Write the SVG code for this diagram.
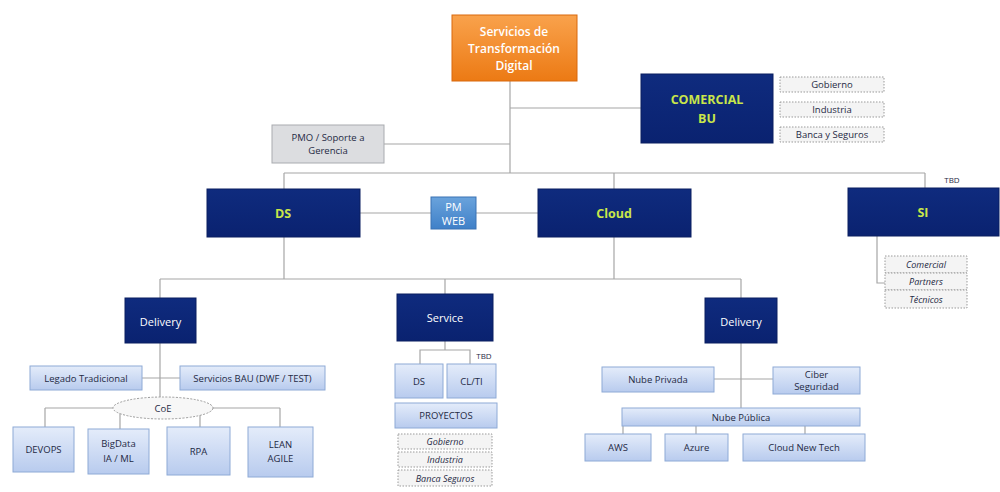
<svg xmlns="http://www.w3.org/2000/svg" width="1000" height="492" viewBox="0 0 1000 492">
  <defs>
    <linearGradient id="gOrange" x1="0" y1="0" x2="0" y2="1">
      <stop offset="0" stop-color="#f9a24c"/>
      <stop offset="1" stop-color="#ec7a14"/>
    </linearGradient>
    <linearGradient id="gNavy" x1="0" y1="0" x2="0" y2="1">
      <stop offset="0" stop-color="#0f2b7e"/>
      <stop offset="1" stop-color="#0a2270"/>
    </linearGradient>
    <linearGradient id="gLight" x1="0" y1="0" x2="0" y2="1">
      <stop offset="0" stop-color="#e4ecfa"/>
      <stop offset="1" stop-color="#b8cbee"/>
    </linearGradient>
    <linearGradient id="gMid" x1="0" y1="0" x2="0" y2="1">
      <stop offset="0" stop-color="#6aa3dc"/>
      <stop offset="1" stop-color="#3f80c8"/>
    </linearGradient>
  </defs>
  <style>
    text { font-family: "Open Sans", "Liberation Sans", sans-serif; text-anchor: middle; dominant-baseline: central; }
    .orange { fill: url(#gOrange); stroke: #d9690c; stroke-width: 1; }
    .navy { fill: url(#gNavy); stroke: #0a1f60; stroke-width: 1; }
    .light { fill: url(#gLight); stroke: #8eaad6; stroke-width: 1; }
    .gray { fill: #dcdde0; stroke: #a9abb0; stroke-width: 1; }
    .dotted { fill: #f4f4f4; stroke: #9a9a9a; stroke-width: 1; stroke-dasharray: 1.5 1.5; }
    .mid { fill: url(#gMid); stroke: #3a72b4; stroke-width: 1; }
    .conn line, .conn polyline { stroke: #a6a6a6; stroke-width: 1.2; fill: none; }
    .tw { fill: #ffffff; font-size: 11px; }
    .tt { fill: #ffffff; font-size: 12px; font-weight: 600; }
    .ty { fill: #c9e64a; font-size: 12.5px; font-weight: bold; }
    .td { fill: #1f2a44; font-size: 9.5px; }
    .ti { fill: #1f2a44; font-size: 9px; font-style: italic; }
    .tbd { fill: #1f2a44; font-size: 8px; }
  </style>
  <rect width="1000" height="492" fill="#ffffff"/>

  <g id="connectors" class="conn">
    <!-- trunk -->
    <line x1="510" y1="81" x2="510" y2="173"/>
    <line x1="510" y1="108" x2="641" y2="108"/>
    <line x1="384" y1="144" x2="510" y2="144"/>
    <line x1="284" y1="173" x2="925" y2="173"/>
    <line x1="284" y1="173" x2="284" y2="189"/>
    <line x1="614" y1="173" x2="614" y2="189"/>
    <line x1="925" y1="173" x2="925" y2="188"/>
    <!-- DS / Cloud link -->
    <line x1="360" y1="213" x2="538" y2="213"/>
    <!-- SI children -->
    <polyline points="877,236 877,283 885,283"/>
    <!-- second level bus -->
    <line x1="284" y1="237" x2="284" y2="279"/>
    <line x1="614" y1="237" x2="614" y2="279"/>
    <line x1="160" y1="279" x2="741" y2="279"/>
    <line x1="160" y1="279" x2="160" y2="298"/>
    <line x1="445" y1="279" x2="445" y2="294"/>
    <line x1="741" y1="279" x2="741" y2="298"/>
    <!-- left delivery -->
    <line x1="160" y1="343" x2="160" y2="397"/>
    <line x1="142" y1="378" x2="180" y2="378"/>
    <line x1="45" y1="408" x2="113" y2="408"/>
    <line x1="213" y1="408" x2="280" y2="408"/>
    <line x1="45" y1="408" x2="45" y2="427"/>
    <line x1="120" y1="408" x2="120" y2="429"/>
    <line x1="200" y1="408" x2="200" y2="427"/>
    <line x1="280" y1="408" x2="280" y2="427"/>
    <!-- service -->
    <line x1="445" y1="341" x2="445" y2="350"/>
    <polyline points="420,364 420,350 470,350 470,364"/>
    <!-- right delivery -->
    <line x1="741" y1="343" x2="741" y2="408"/>
    <line x1="714" y1="379" x2="773" y2="379"/>
    <line x1="623" y1="426" x2="623" y2="434"/>
    <line x1="696" y1="426" x2="696" y2="434"/>
    <line x1="805" y1="426" x2="805" y2="434"/>
  </g>

  <g id="top">
    <rect class="orange" x="452" y="15" width="125" height="66"/>
    <text class="tt" x="514" y="31">Servicios de</text>
    <text class="tt" x="514" y="48">Transformación</text>
    <text class="tt" x="514" y="65">Digital</text>
  </g>

  <g id="comercial">
    <rect class="navy" x="641" y="74" width="132" height="69"/>
    <text class="ty" x="707" y="99" font-size="13.5">COMERCIAL</text>
    <text class="ty" x="707" y="118" font-size="13.5">BU</text>
  </g>
  <g id="comercial-gobierno">
    <rect class="dotted" x="780" y="77" width="104" height="15"/>
    <text class="td" x="832" y="84.5">Gobierno</text>
  </g>
  <g id="comercial-industria">
    <rect class="dotted" x="780" y="102" width="104" height="15"/>
    <text class="td" x="832" y="109.5">Industria</text>
  </g>
  <g id="comercial-banca">
    <rect class="dotted" x="780" y="127" width="104" height="15"/>
    <text class="td" x="832" y="134.5">Banca y Seguros</text>
  </g>

  <g id="pmo">
    <rect class="gray" x="272" y="125" width="112" height="38"/>
    <text class="td" x="328" y="137">PMO / Soporte a</text>
    <text class="td" x="328" y="150">Gerencia</text>
  </g>

  <g id="ds">
    <rect class="navy" x="207" y="189" width="153" height="48"/>
    <text class="ty" x="283" y="213">DS</text>
  </g>
  <g id="pm">
    <rect class="mid" x="431" y="197" width="45" height="32"/>
    <text class="tw" x="453.5" y="206" font-size="7.5">PM</text>
    <text class="tw" x="453.5" y="220" font-size="7.5">WEB</text>
  </g>
  <g id="cloud">
    <rect class="navy" x="538" y="189" width="153" height="48"/>
    <text class="ty" x="614" y="213">Cloud</text>
  </g>
  <g id="si">
    <rect class="navy" x="848" y="188" width="151" height="48"/>
    <text class="ty" x="923" y="212">SI</text>
    <text class="tbd" x="952" y="179">TBD</text>
  </g>
  <g id="si-comercial">
    <rect class="dotted" x="885" y="256" width="82" height="17"/>
    <text class="ti" x="926" y="264.5">Comercial</text>
  </g>
  <g id="si-partners">
    <rect class="dotted" x="885" y="273" width="82" height="17"/>
    <text class="ti" x="926" y="281.5">Partners</text>
  </g>
  <g id="si-tecnicos">
    <rect class="dotted" x="885" y="290" width="82" height="18"/>
    <text class="ti" x="926" y="299">Técnicos</text>
  </g>

  <!-- DS branch -->
  <g id="ds-delivery">
    <rect class="navy" x="125" y="298" width="71" height="45"/>
    <text class="tw" x="160.5" y="321">Delivery</text>
  </g>
  <g id="legado">
    <rect class="light" x="30" y="366" width="112" height="24"/>
    <text class="td" x="86" y="378">Legado Tradicional</text>
  </g>
  <g id="bau">
    <rect class="light" x="180" y="366" width="145" height="24"/>
    <text class="td" x="252.5" y="378">Servicios BAU (DWF / TEST)</text>
  </g>
  <g id="coe">
    <ellipse cx="163" cy="408" rx="50" ry="11" fill="#f7f7f7" stroke="#9a9a9a" stroke-dasharray="2 1.5"/>
    <text class="td" x="163" y="408">CoE</text>
  </g>
  <g id="devops">
    <rect class="light" x="13" y="427" width="61" height="45"/>
    <text class="td" x="43.5" y="449.5">DEVOPS</text>
  </g>
  <g id="bigdata">
    <rect class="light" x="88" y="429" width="61" height="45"/>
    <text class="td" x="118.5" y="443">BigData</text>
    <text class="td" x="118.5" y="458">IA / ML</text>
  </g>
  <g id="rpa">
    <rect class="light" x="167" y="427" width="63" height="48"/>
    <text class="td" x="198.5" y="451">RPA</text>
  </g>
  <g id="lean">
    <rect class="light" x="248" y="427" width="65" height="50"/>
    <text class="td" x="280.5" y="444">LEAN</text>
    <text class="td" x="280.5" y="458">AGILE</text>
  </g>

  <!-- Service branch -->
  <g id="service">
    <rect class="navy" x="397" y="294" width="96" height="47"/>
    <text class="tw" x="445" y="317">Service</text>
    <text class="tbd" x="484" y="355">TBD</text>
  </g>
  <g id="service-ds">
    <rect class="light" x="395" y="364" width="48" height="34"/>
    <text class="td" x="419" y="381">DS</text>
  </g>
  <g id="service-clti">
    <rect class="light" x="447" y="364" width="49" height="34"/>
    <text class="td" x="471.5" y="381">CL/TI</text>
  </g>
  <g id="proyectos">
    <rect class="light" x="395" y="403" width="102" height="25"/>
    <text class="td" x="446" y="415.5">PROYECTOS</text>
  </g>
  <g id="proy-gobierno">
    <rect class="dotted" x="398" y="434" width="94" height="15"/>
    <text class="ti" x="445" y="441.5">Gobierno</text>
  </g>
  <g id="proy-industria">
    <rect class="dotted" x="398" y="452" width="94" height="15"/>
    <text class="ti" x="445" y="459.5">Industria</text>
  </g>
  <g id="proy-banca">
    <rect class="dotted" x="398" y="470" width="94" height="16"/>
    <text class="ti" x="445" y="478">Banca Seguros</text>
  </g>

  <!-- Cloud branch -->
  <g id="cloud-delivery">
    <rect class="navy" x="705" y="298" width="72" height="45"/>
    <text class="tw" x="741" y="321">Delivery</text>
  </g>
  <g id="nube-privada">
    <rect class="light" x="602" y="367" width="112" height="25"/>
    <text class="td" x="658" y="379.5">Nube Privada</text>
  </g>
  <g id="ciber">
    <rect class="light" x="773" y="367" width="87" height="27"/>
    <text class="td" x="816.5" y="374">Ciber</text>
    <text class="td" x="816.5" y="386">Seguridad</text>
  </g>
  <g id="nube-publica">
    <rect class="light" x="622" y="408" width="238" height="18"/>
    <text class="td" x="741" y="417">Nube Pública</text>
  </g>
  <g id="aws">
    <rect class="light" x="585" y="434" width="66" height="27"/>
    <text class="td" x="618" y="447.5">AWS</text>
  </g>
  <g id="azure">
    <rect class="light" x="665" y="434" width="63" height="27"/>
    <text class="td" x="696.5" y="447.5">Azure</text>
  </g>
  <g id="cloud-new-tech">
    <rect class="light" x="743" y="434" width="122" height="27"/>
    <text class="td" x="804" y="447.5">Cloud New Tech</text>
  </g>
</svg>
